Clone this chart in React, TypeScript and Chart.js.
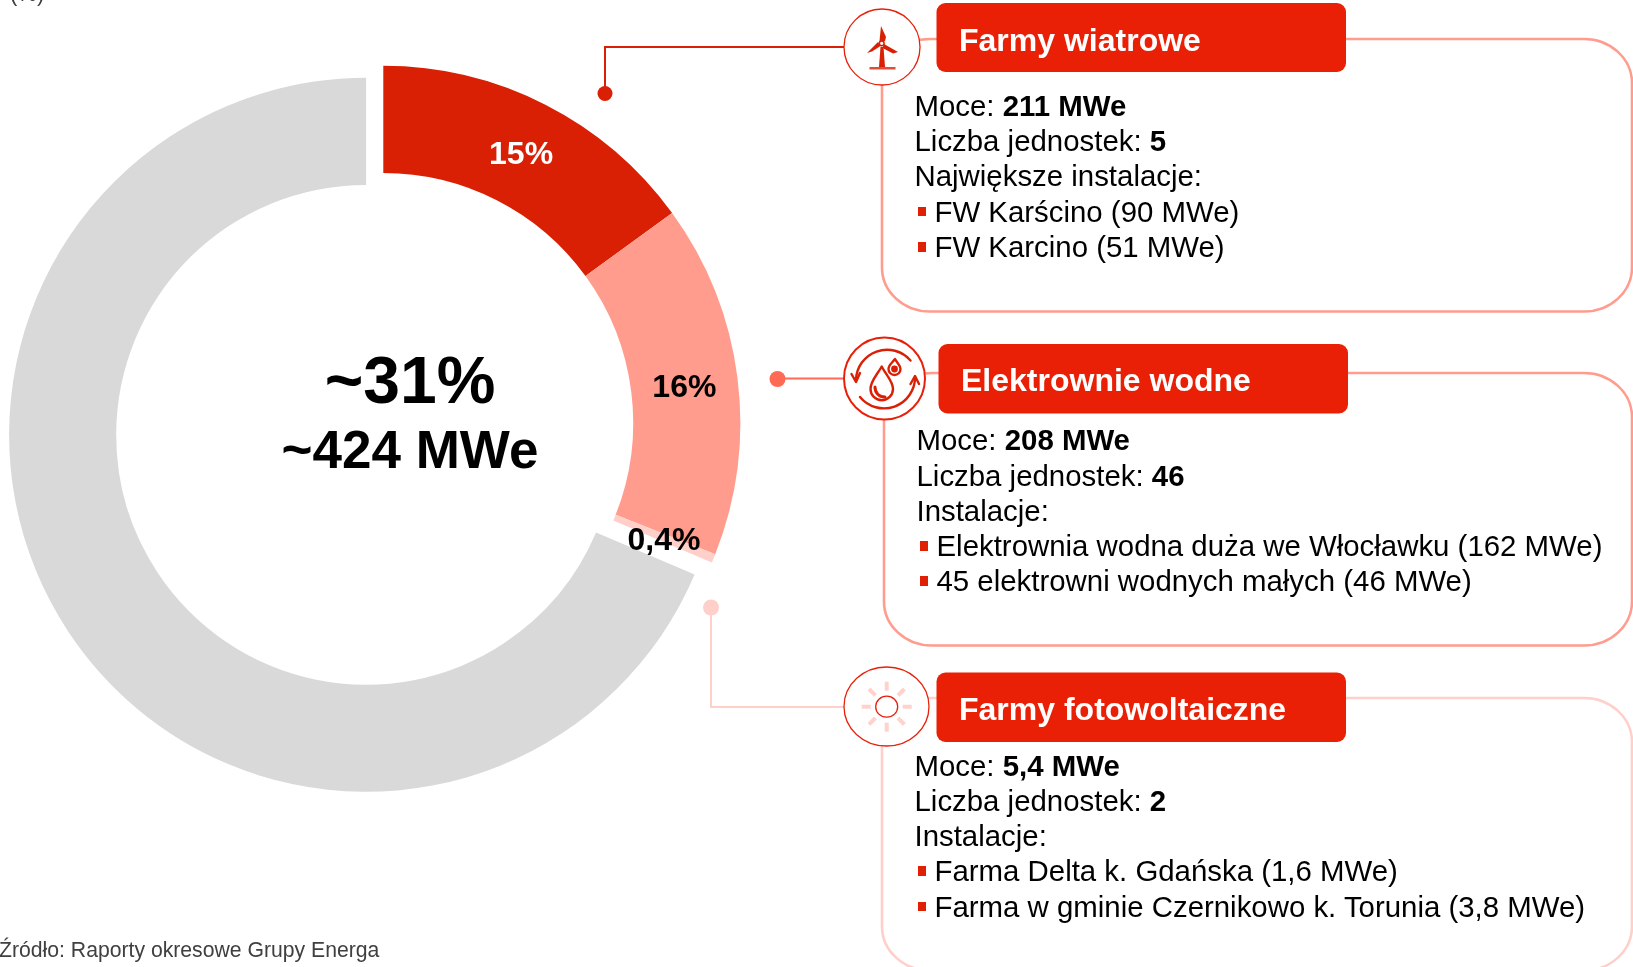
import React, { useEffect, useRef } from "react";
import { Chart, registerables } from "chart.js";

Chart.register(...registerables);

const categories = ["Farmy wiatrowe", "Elektrownie wodne", "Farmy fotowoltaiczne", "Pozostałe"];
const shares = [15, 16, 0.4, 68.6];
const shareLabels = ["15%", "16%", "0,4%", ""];
const sliceColors = ["#D92005", "#FF9C8E", "#FFCFC9", "#D9D9D9"];
const labelColors = ["#FFFFFF", "#000000", "#000000", "#000000"];
const explodedIndexes = [0, 1, 2];
const explodeDx = 17.2;
const explodeDy = -12;
const labelShiftY = 3;

const FONT = "'Liberation Sans', Arial, sans-serif";

const explodePlugin = {
  id: "explodeGroup",
  beforeDatasetDraw(chart: any, args: any) {
    const ctx = chart.ctx;
    const meta = args.meta;
    meta.data.forEach((arc: any, i: number) => {
      ctx.save();
      if (explodedIndexes.includes(i)) ctx.translate(explodeDx, explodeDy);
      arc.draw(ctx);
      ctx.restore();
    });
    return false;
  },
  afterDatasetsDraw(chart: any) {
    const ctx = chart.ctx;
    const meta = chart.getDatasetMeta(0);
    ctx.save();
    ctx.font = `bold 32px ${FONT}`;
    ctx.textAlign = "center";
    ctx.textBaseline = "middle";
    meta.data.forEach((arc: any, i: number) => {
      if (!shareLabels[i]) return;
      const p = arc.getCenterPoint();
      const dx = explodedIndexes.includes(i) ? explodeDx : 0;
      const dy = explodedIndexes.includes(i) ? explodeDy : 0;
      ctx.fillStyle = labelColors[i];
      ctx.fillText(shareLabels[i], p.x + dx, p.y + dy + labelShiftY);
    });
    ctx.restore();
  },
};

type Line = { x: number; y: number; plain: string; bold?: string; bullet?: boolean };

const panelTitles = [
  { text: "Farmy wiatrowe", x: 959, y: 40 },
  { text: "Elektrownie wodne", x: 961, y: 380.3 },
  { text: "Farmy fotowoltaiczne", x: 959, y: 708.7 },
];

const panelLines: Line[] = [
  { x: 914.5, y: 105.8, plain: "Moce: ", bold: "211 MWe" },
  { x: 914.5, y: 141, plain: "Liczba jednostek: ", bold: "5" },
  { x: 914.5, y: 176.3, plain: "Największe instalacje:" },
  { x: 934.5, y: 211.7, plain: "FW Karścino (90 MWe)", bullet: true },
  { x: 934.5, y: 247, plain: "FW Karcino (51 MWe)", bullet: true },
  { x: 916.5, y: 440.2, plain: "Moce: ", bold: "208 MWe" },
  { x: 916.5, y: 475.6, plain: "Liczba jednostek: ", bold: "46" },
  { x: 916.5, y: 510.8, plain: "Instalacje:" },
  { x: 936.5, y: 546, plain: "Elektrownia wodna duża we Włocławku (162 MWe)", bullet: true },
  { x: 936.5, y: 581.3, plain: "45 elektrowni wodnych małych (46 MWe)", bullet: true },
  { x: 914.5, y: 766, plain: "Moce: ", bold: "5,4 MWe" },
  { x: 914.5, y: 800.8, plain: "Liczba jednostek: ", bold: "2" },
  { x: 914.5, y: 836, plain: "Instalacje:" },
  { x: 934.5, y: 871.3, plain: "Farma Delta k. Gdańska (1,6 MWe)", bullet: true },
  { x: 934.5, y: 906.8, plain: "Farma w gminie Czernikowo k. Torunia (3,8 MWe)", bullet: true },
];

const HEADER = "#E92005";
const sunRays = [0, 45, 90, 135, 180, 225, 270, 315];

function Overlay() {
  return (
    <svg width={1633} height={967} style={{ position: "absolute", left: 0, top: 0 }}>
      {/* panel frames */}
      <rect x={882} y={39} width={750} height={272.5} rx={48} ry={44} fill="none" stroke="#FF9C8E" strokeWidth={2.6} />
      <rect x={884} y={373} width={748} height={272.5} rx={48} ry={44} fill="none" stroke="#FF9C8E" strokeWidth={2.6} />
      <rect x={882} y={698} width={750} height={272.5} rx={48} ry={44} fill="none" stroke="#FFCFC9" strokeWidth={2.6} />

      {/* headers */}
      <rect x={936.5} y={3} width={409.5} height={69} rx={9} fill={HEADER} />
      <rect x={938.5} y={344} width={409.5} height={69.5} rx={9} fill={HEADER} />
      <rect x={936.5} y={672.5} width={409.5} height={69.5} rx={9} fill={HEADER} />

      {/* leaders */}
      <path d="M844 47 H605 V93" fill="none" stroke="#D92005" strokeWidth={2} />
      <circle cx={605} cy={93.5} r={7.5} fill="#D92005" />
      <path d="M843 378.5 H777" fill="none" stroke="#FF6A55" strokeWidth={2} />
      <circle cx={777.5} cy={379} r={8} fill="#FF6A55" />
      <path d="M844 707 H711 V607" fill="none" stroke="#FFCFC9" strokeWidth={2} />
      <circle cx={711} cy={607.5} r={8} fill="#FFCFC9" />

      {/* wind icon */}
      <circle cx={882} cy={47} r={38} fill="#fff" stroke="#E8200A" strokeWidth={1.3} />
      <g fill="#D92005">
        <path d="M881 26 L886 37 L885 41 L879.5 41 Z" />
        <path d="M867 53 L878 42 L880.5 46 L872 51.5 Z" />
        <path d="M898 52 L884 44 L882.5 48 L893 53.5 Z" />
        <path d="M880.5 47 H883.5 L885 67 H879 Z" />
        <rect x={869.5} y={67} width={26} height={2.5} opacity={0.8} />
      </g>
      <circle cx={881.7} cy={43.3} r={2.4} fill="#fff" stroke="#D92005" strokeWidth={1.5} />

      {/* water icon */}
      <ellipse cx={884.5} cy={378.5} rx={40.5} ry={41} fill="#fff" stroke="#E8200A" strokeWidth={2} />
      <g fill="none" stroke="#D92005" strokeWidth={2.4} strokeLinecap="round" strokeLinejoin="round">
        <path d="M910.5 360.5 A31 31 0 0 0 856 380" />
        <path d="M851.5 374 L856 382 L860 373" />
        <path d="M860 397 A31 31 0 0 0 915 377" />
        <path d="M910.5 384 L915 376 L919 384" />
        <path d="M881.7 366.5 C877 375 870.5 381 870.5 389 A11.2 11.2 0 0 0 893 389 C893 381 886 375 881.7 366.5 Z" />
        <path d="M875 387 C875 393 879 397 885 397" strokeWidth={3} />
        <path d="M895 359 C892 363 888.5 365 888.5 369 A6 6 0 0 0 900.5 369 C900.5 365 897 363 895 359 Z" />
      </g>
      <circle cx={894.5} cy={369} r={3.4} fill="#D92005" />

      {/* sun icon */}
      <ellipse cx={886.5} cy={706.5} rx={42.5} ry={39.5} fill="#fff" stroke="#E8200A" strokeWidth={1.3} />
      {sunRays.map((deg) => {
        const a = (deg * Math.PI) / 180;
        return (
          <line
            key={deg}
            x1={886.7 + 16 * Math.cos(a)}
            y1={706.7 + 16 * Math.sin(a)}
            x2={886.7 + 25 * Math.cos(a)}
            y2={706.7 + 25 * Math.sin(a)}
            stroke="#FFD2CC"
            strokeWidth={4}
          />
        );
      })}
      <ellipse cx={886.7} cy={706.7} rx={11} ry={10.5} fill="#fff" stroke="#E8200A" strokeWidth={1.3} />
    </svg>
  );
}

function Text({ x, y, size, bold, color, children }: any) {
  return (
    <div
      style={{
        position: "absolute",
        left: x,
        top: y - 30,
        height: 60,
        lineHeight: "60px",
        fontFamily: FONT,
        fontSize: size,
        fontWeight: bold ? 700 : 400,
        color: color || "#000",
        whiteSpace: "nowrap",
      }}
    >
      {children}
    </div>
  );
}

export default function App() {
  const ref = useRef<HTMLCanvasElement>(null);

  useEffect(() => {
    const chart = new Chart(ref.current as HTMLCanvasElement, {
      type: "doughnut",
      data: {
        labels: categories,
        datasets: [
          {
            data: shares,
            backgroundColor: sliceColors,
            borderWidth: 0,
          },
        ],
      },
      options: {
        responsive: false,
        animation: false,
        cutout: "70%",
        layout: { padding: { left: 9.1, right: 36.9, top: 77.8, bottom: 108.2 } },
        plugins: { legend: { display: false }, tooltip: { enabled: false } },
      },
      plugins: [explodePlugin],
    } as any);
    return () => chart.destroy();
  }, []);

  return (
    <div style={{ position: "absolute", left: 0, top: 0, width: 1633, height: 967, overflow: "hidden", background: "#fff" }}>
      <canvas ref={ref} width={760} height={900} style={{ position: "absolute", left: 0, top: 0, width: 760, height: 900 }} />
      <Overlay />
      <Text x={10} y={-6} size={22} color="#404040">(%)</Text>
      <div
        style={{
          position: "absolute",
          left: 0,
          width: 820,
          textAlign: "center",
          top: 380 - 40,
          lineHeight: "80px",
          fontFamily: FONT,
          fontWeight: 700,
          fontSize: 66,
        }}
      >
        ~31%
      </div>
      <div
        style={{
          position: "absolute",
          left: 0,
          width: 820,
          textAlign: "center",
          top: 450 - 40,
          lineHeight: "80px",
          fontFamily: FONT,
          fontWeight: 700,
          fontSize: 53,
        }}
      >
        ~424 MWe
      </div>
      {panelTitles.map((t) => (
        <Text key={t.text} x={t.x} y={t.y} size={32} bold color="#fff">{t.text}</Text>
      ))}
      {panelLines.map((l) => (
        <React.Fragment key={l.plain + l.y}>
          {l.bullet && (
            <div style={{ position: "absolute", left: l.x - 17, top: l.y - 5, width: 8.5, height: 9.5, background: "#E02005" }} />
          )}
          <Text x={l.x} y={l.y} size={29.4}>
            {l.plain}
            {l.bold && <b>{l.bold}</b>}
          </Text>
        </React.Fragment>
      ))}
      <Text x={-1} y={949.5} size={21.2} color="#404040">Źródło: Raporty okresowe Grupy Energa</Text>
    </div>
  );
}
